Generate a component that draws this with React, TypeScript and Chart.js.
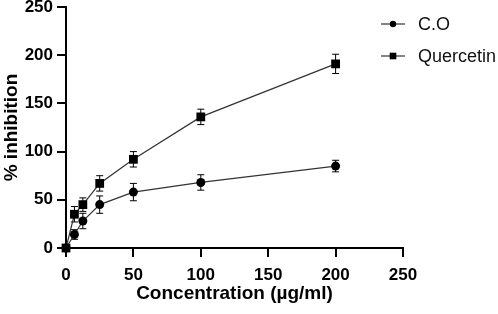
import React, { useEffect, useRef } from "react";
import { Chart, registerables } from "chart.js";

Chart.register(...registerables);

const concentrations = [0, 6.25, 12.5, 25, 50, 100, 200];
const coValues = [0, 14, 28, 45, 58, 68, 85];
const coErrors = [0, 5, 8, 9, 9, 8, 6];
const quercetinValues = [0, 35, 45, 67, 92, 136, 191];
const quercetinErrors = [0, 8, 7, 8, 8, 8, 10];
const seriesLabels = ["C.O", "Quercetin"];
const xTitle = "Concentration (µg/ml)";
const yTitle = "% inhibition";

const FONT = "'Liberation Sans', Arial, Helvetica, sans-serif";

const errorBarPlugin = {
  id: "errorBars",
  beforeDatasetsDraw(chart: any) {
    const { ctx, scales } = chart;
    const xs = scales.x;
    const ys = scales.y;
    chart.data.datasets.forEach((ds: any) => {
      const errs: number[] = ds.errors || [];
      ctx.save();
      ctx.strokeStyle = "#000";
      ctx.lineWidth = 1;
      ds.data.forEach((p: any, i: number) => {
        const e = errs[i];
        if (!e) return;
        const x = xs.getPixelForValue(p.x);
        const yt = ys.getPixelForValue(p.y + e);
        const yb = ys.getPixelForValue(p.y - e);
        ctx.beginPath();
        ctx.moveTo(x, yt);
        ctx.lineTo(x, yb);
        ctx.moveTo(x - 3.5, yt);
        ctx.lineTo(x + 3.5, yt);
        ctx.moveTo(x - 3.5, yb);
        ctx.lineTo(x + 3.5, yb);
        ctx.stroke();
      });
      ctx.restore();
    });
  },
};

const legendPlugin = {
  id: "customLegend",
  afterDraw(chart: any) {
    const { ctx } = chart;
    const styles = ["circle", "rect"];
    ctx.save();
    chart.data.datasets.forEach((ds: any, i: number) => {
      const y = 24 + i * 32;
      ctx.strokeStyle = "#333";
      ctx.lineWidth = 1.2;
      ctx.beginPath();
      ctx.moveTo(381, y);
      ctx.lineTo(405, y);
      ctx.stroke();
      ctx.fillStyle = "#000";
      if (styles[i] === "circle") {
        ctx.beginPath();
        ctx.arc(393, y, 3.2, 0, Math.PI * 2);
        ctx.fill();
      } else {
        ctx.fillRect(393 - 3.3, y - 3.3, 6.6, 6.6);
      }
      ctx.font = `18px ${FONT}`;
      ctx.textBaseline = "middle";
      ctx.textAlign = "left";
      ctx.fillStyle = "#111";
      ctx.fillText(ds.label, 418, y + 1);
    });
    ctx.restore();
  },
};

export default function App() {
  const canvasRef = useRef<HTMLCanvasElement | null>(null);

  useEffect(() => {
    document.body.style.margin = "0";
    const canvas = canvasRef.current;
    if (!canvas) return;
    const mk = (vals: number[]) => concentrations.map((x, i) => ({ x, y: vals[i] }));
    const chart = new Chart(canvas, {
      type: "line",
      data: {
        datasets: [
          {
            label: seriesLabels[0],
            data: mk(coValues),
            errors: coErrors,
            borderColor: "#333",
            borderWidth: 1.2,
            backgroundColor: "#000",
            pointBackgroundColor: "#000",
            pointBorderColor: "#000",
            pointStyle: "circle",
            pointRadius: 4.5,
            pointBorderWidth: 0,
            clip: false,
          } as any,
          {
            label: seriesLabels[1],
            data: mk(quercetinValues),
            errors: quercetinErrors,
            borderColor: "#333",
            borderWidth: 1.2,
            backgroundColor: "#000",
            pointBackgroundColor: "#000",
            pointBorderColor: "#000",
            pointStyle: "rect",
            pointRadius: 6.2,
            pointBorderWidth: 0,
            clip: false,
          } as any,
        ],
      },
      options: {
        responsive: false,
        animation: false,
        devicePixelRatio: 1,
        layout: { padding: { top: 7, right: 95, left: 0, bottom: 0 } },
        plugins: { legend: { display: false }, tooltip: { enabled: false } },
        scales: {
          x: {
            type: "linear",
            min: 0,
            max: 250,
            ticks: {
              stepSize: 50,
              color: "#000",
              font: { family: FONT, size: 17, weight: "bold" },
              padding: 8,
              maxRotation: 0,
            },
            grid: {
              drawOnChartArea: false,
              drawTicks: true,
              tickLength: 9,
              color: "#000",
              lineWidth: 2,
            },
            border: { color: "#000", width: 2 },
            title: {
              display: true,
              text: xTitle,
              color: "#000",
              font: { family: FONT, size: 19, weight: "bold" },
              padding: { top: 0, bottom: 9 },
            },
            afterFit(scale: any) {
              scale.height = 66;
            },
          },
          y: {
            type: "linear",
            min: 0,
            max: 250,
            ticks: {
              stepSize: 50,
              color: "#000",
              font: { family: FONT, size: 17, weight: "bold" },
              padding: 4,
            },
            grid: {
              drawOnChartArea: false,
              drawTicks: true,
              tickLength: 9,
              color: "#000",
              lineWidth: 2,
            },
            border: { color: "#000", width: 2 },
            title: {
              display: true,
              text: yTitle,
              color: "#000",
              font: { family: FONT, size: 19, weight: "bold" },
              padding: { top: 0, bottom: 0 },
            },
            afterFit(scale: any) {
              scale.width = 66;
              scale.paddingTop = 0;
              scale.paddingBottom = 0;
            },
          },
        },
      } as any,
      plugins: [errorBarPlugin, legendPlugin],
    });
    return () => chart.destroy();
  }, []);

  return (
    <div style={{ width: 498, height: 314 }}>
      <canvas ref={canvasRef} width={498} height={314} />
    </div>
  );
}
